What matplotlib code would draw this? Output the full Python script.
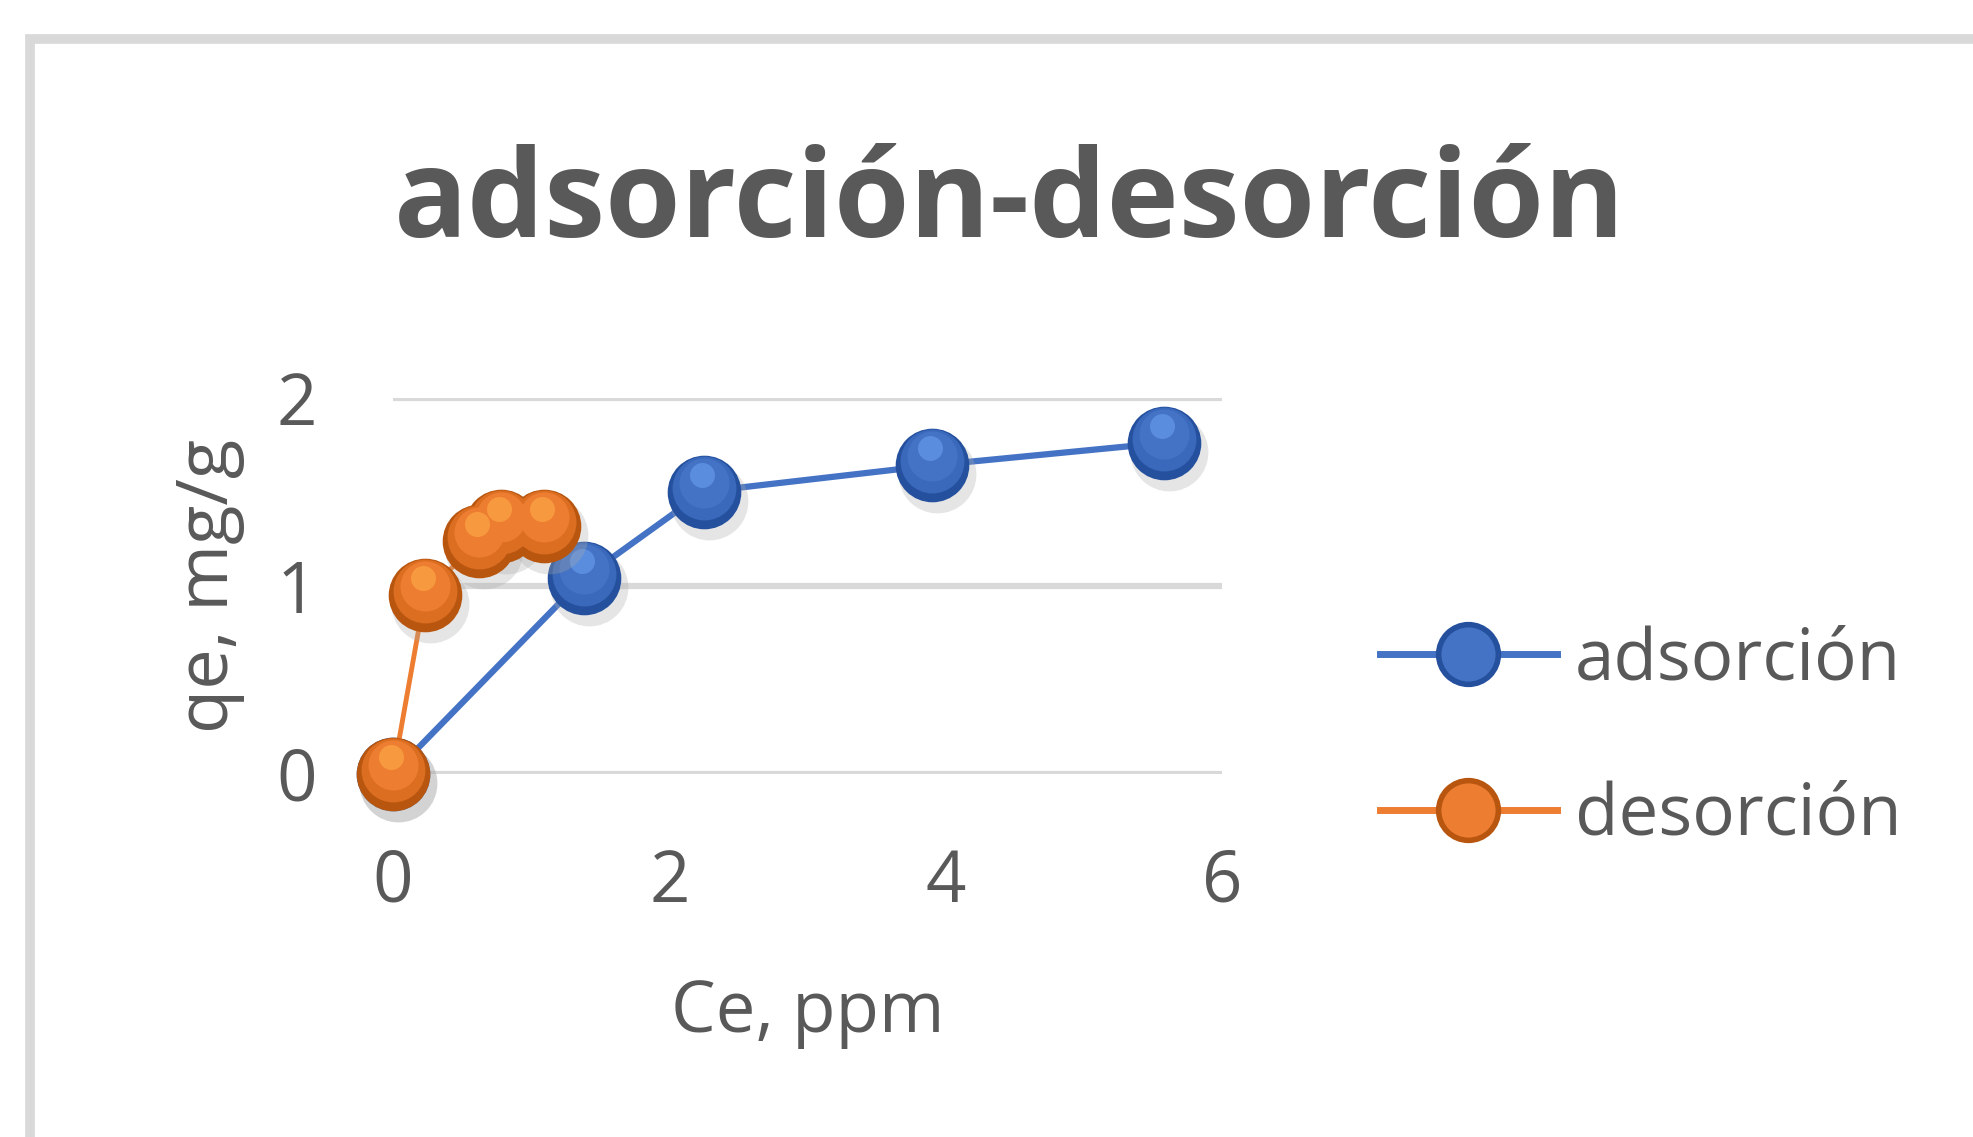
import matplotlib
matplotlib.use('Agg')
import matplotlib.pyplot as plt
from matplotlib.lines import Line2D
from matplotlib.patches import Rectangle
from matplotlib.transforms import offset_copy

# datos
ads_ce = [0.0, 1.38, 2.25, 3.90, 5.58]
ads_qe = [0.0, 1.04, 1.50, 1.64, 1.76]
des_ce = [0.0, 0.23, 0.62, 0.78, 1.09]
des_qe = [0.0, 0.95, 1.24, 1.32, 1.32]
x_ticks = [0, 2, 4, 6]
y_ticks = [0, 1, 2]

plt.rcParams['font.family'] = ['Open Sans', 'DejaVu Sans']
gris = '#595959'
azul, azul_osc, azul_med, azul_cl = '#4472c4', '#24509e', '#3a68bb', '#6aa0f0'
naranja, naranja_osc, naranja_med, naranja_cl = '#ed7d31', '#b8560f', '#dc6e22', '#ffad4a'

fig = plt.figure(figsize=(19.74, 11.37), dpi=100)
fig.patches.append(Rectangle((30 / 1974, -0.1), 1.2, 1 - 39 / 1137 + 0.1,
                             transform=fig.transFigure, fill=False,
                             edgecolor='#d9d9d9', linewidth=7))

ax = fig.add_axes([0.1991, 0.3195, 0.42, 0.3307])
ax.set_xlim(0, 6)
ax.set_ylim(0, 2)
for s in ax.spines.values():
    s.set_visible(False)
ax.set_xticks(x_ticks)
ax.set_yticks(y_ticks)
ax.tick_params(length=0, labelsize=51, labelcolor=gris, pad=55)
ax.tick_params(axis='x', pad=53)
ax.grid(axis='y', color='#d9d9d9', linewidth=4.5)
ax.set_axisbelow(True)


def esferas(x, y, c_osc, c_med, c, c_cl, z):
    # sombra + capas para imitar el efecto 3D
    sombra = offset_copy(ax.transData, fig=fig, x=5, y=-9, units='dots')
    ax.plot(x, y, 'o', ms=56, color='#aaaaaa', alpha=0.3, mec='none',
            transform=sombra, clip_on=False, zorder=z)
    ax.plot(x, y, 'o', ms=53, color=c_osc, mec='none', clip_on=False, zorder=z + 1)
    t1 = offset_copy(ax.transData, fig=fig, x=0, y=4, units='dots')
    ax.plot(x, y, 'o', ms=46, color=c_med, mec='none', transform=t1,
            clip_on=False, zorder=z + 2)
    t2 = offset_copy(ax.transData, fig=fig, x=0, y=9, units='dots')
    ax.plot(x, y, 'o', ms=36, color=c, mec='none', transform=t2,
            clip_on=False, zorder=z + 3)
    t3 = offset_copy(ax.transData, fig=fig, x=-2, y=17, units='dots')
    ax.plot(x, y, 'o', ms=18, color=c_cl, mec='none', alpha=0.6,
            transform=t3, clip_on=False, zorder=z + 4)


ax.plot(ads_ce, ads_qe, color=azul, lw=4.5, clip_on=False, zorder=3)
esferas(ads_ce, ads_qe, azul_osc, azul_med, azul, azul_cl, 4)
ax.plot(des_ce, des_qe, color=naranja, lw=3.5, clip_on=False, zorder=9)
esferas(des_ce, des_qe, naranja_osc, naranja_med, naranja, naranja_cl, 10)

ax.set_xlabel('Ce, ppm', fontsize=51, color=gris, labelpad=42)
ax.set_ylabel('qe, mg/g', fontsize=52, color=gris, labelpad=22)

fig.text(1010 / 1974, 1 - 205 / 1137, 'adsorción-desorción', fontsize=88,
         fontweight='bold', color=gris, ha='center', va='center')

handles = [Line2D([], [], color=azul, lw=5, marker='o', ms=43,
                  mfc=azul, mec=azul_osc, mew=4),
           Line2D([], [], color=naranja, lw=5, marker='o', ms=43,
                  mfc=naranja, mec=naranja_osc, mew=4)]
fig.legend(handles, ['adsorción', 'desorción'], loc='center left',
           bbox_to_anchor=(1316 / 1974, 1 - 738 / 1137), frameon=False,
           fontsize=51, labelcolor=gris, handlelength=2.5, handletextpad=0.25,
           labelspacing=1.18)

fig.savefig('out.png', dpi=100)
